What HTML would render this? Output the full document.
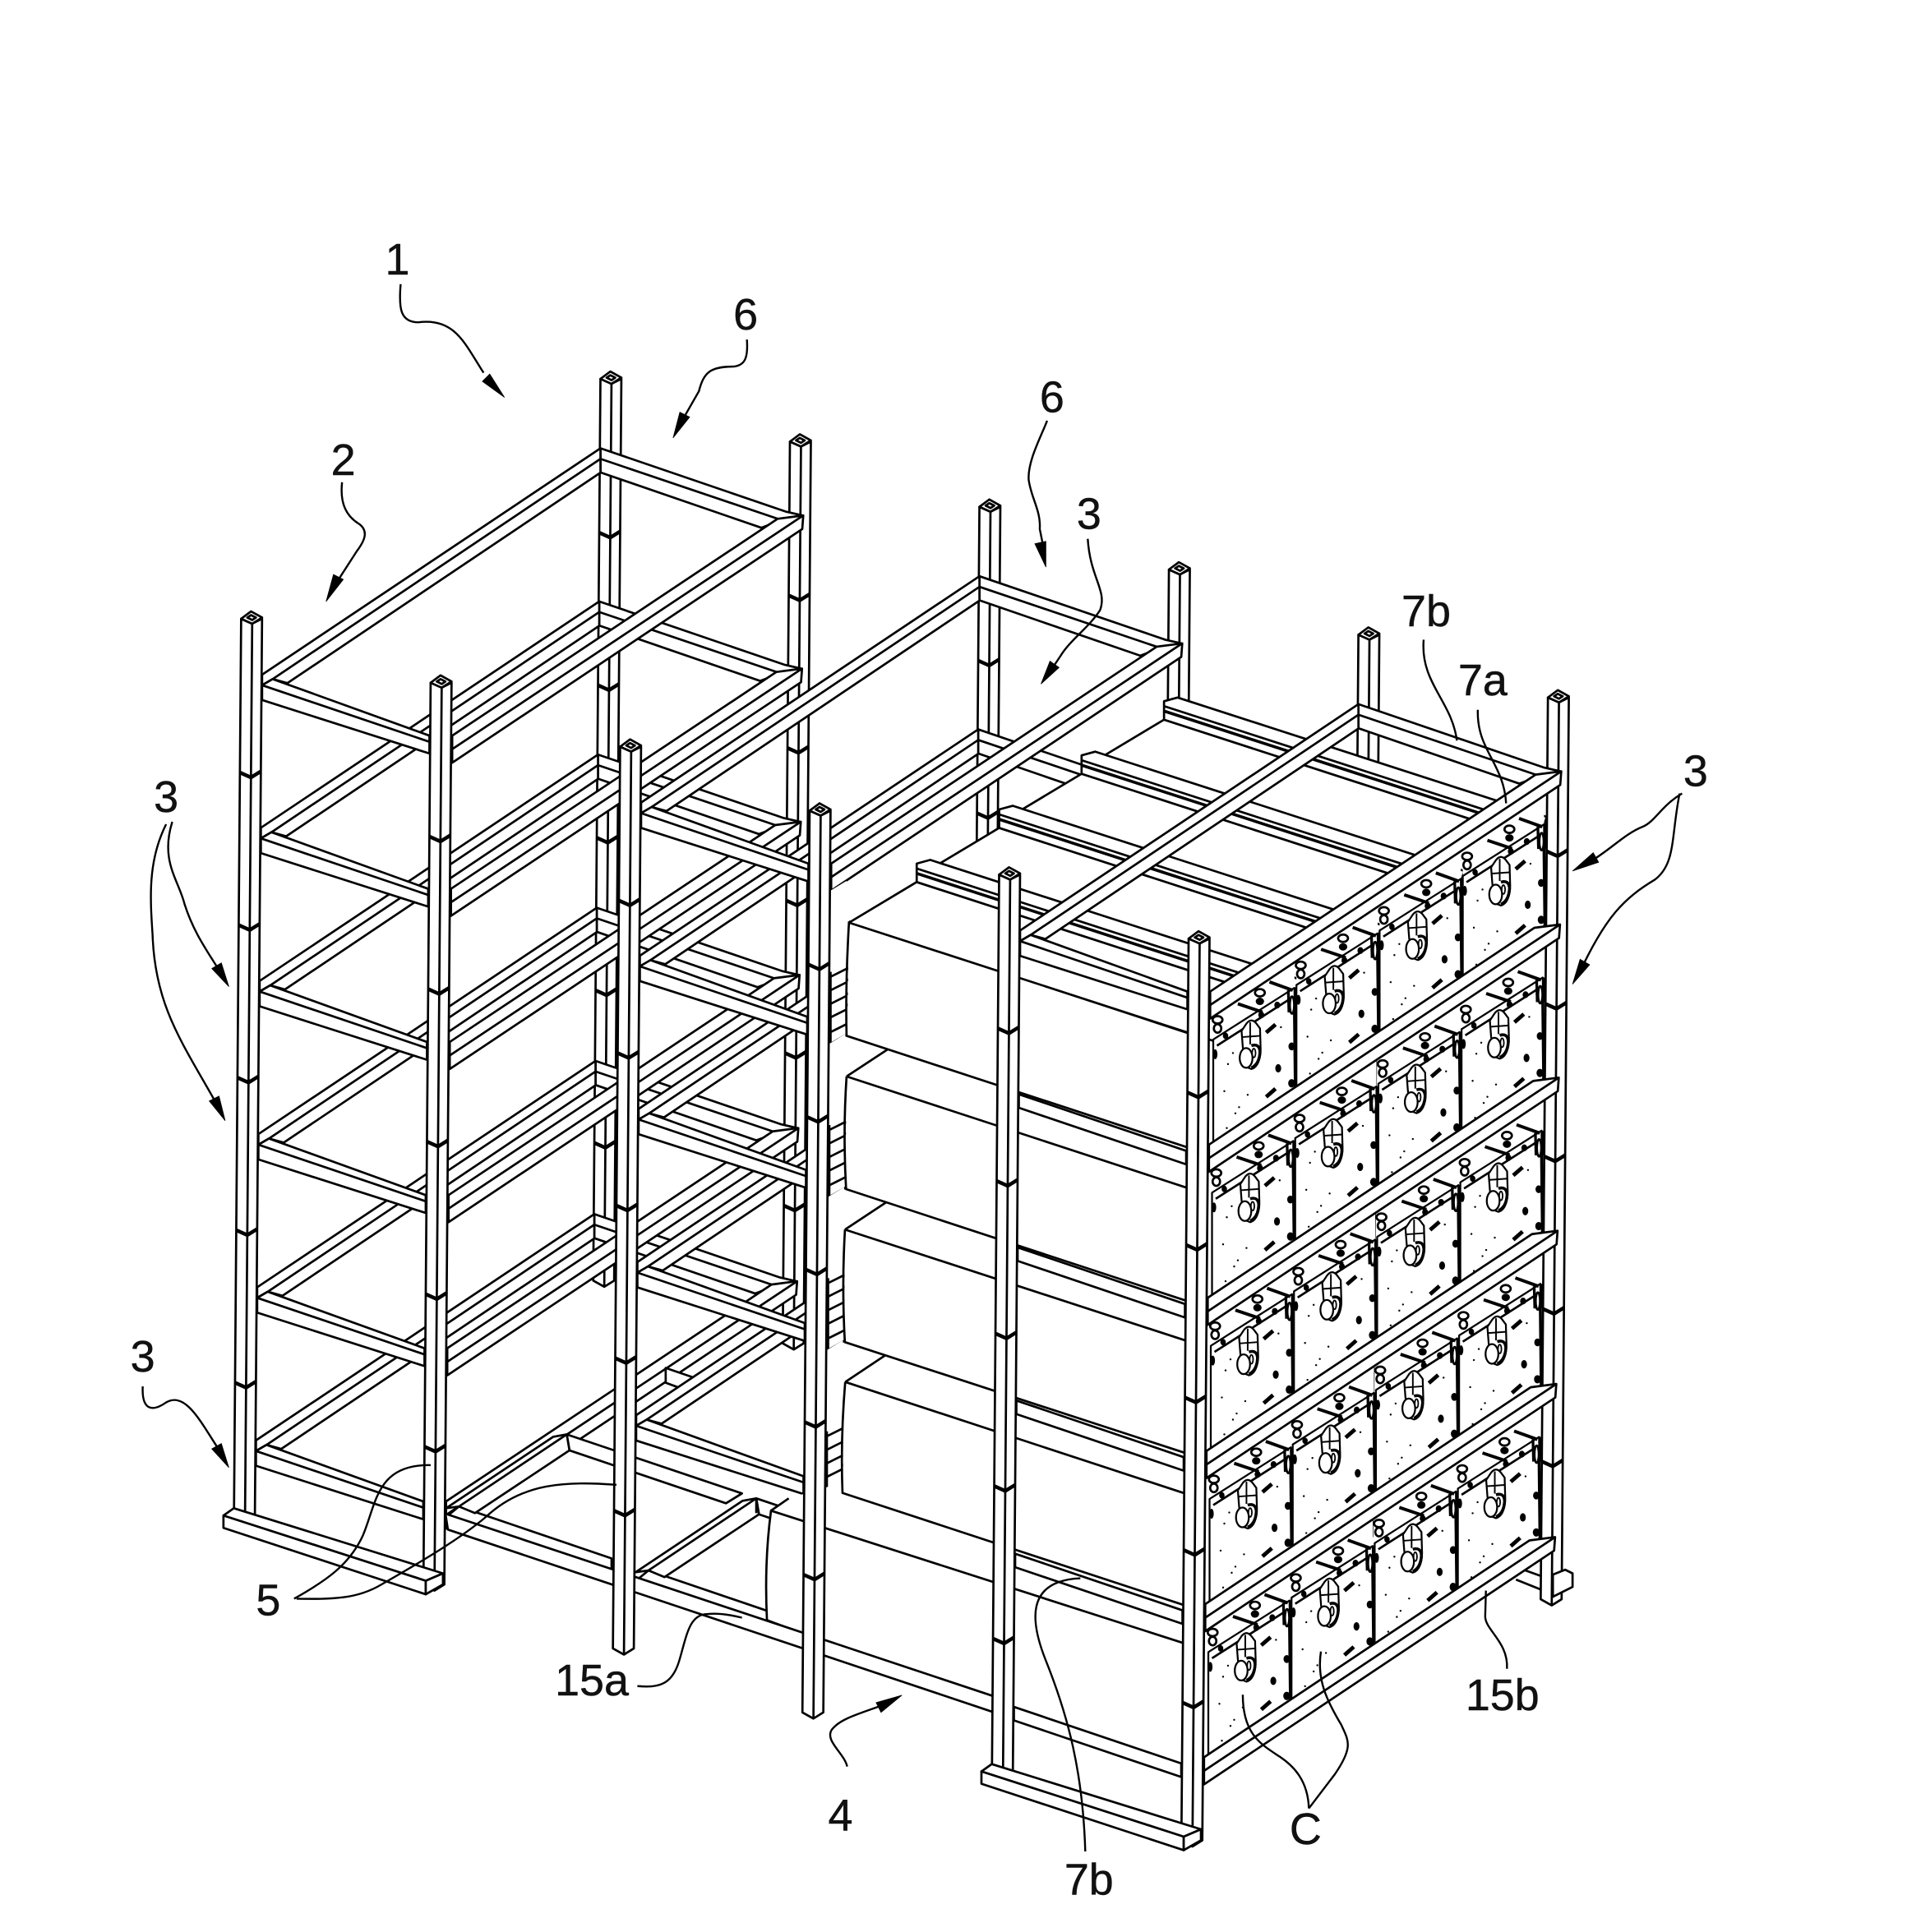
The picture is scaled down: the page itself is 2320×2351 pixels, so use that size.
<!DOCTYPE html>
<html><head><meta charset="utf-8"><title>Battery rack</title>
<style>
html,body{margin:0;padding:0;background:#fff}
svg{display:block}
.s polygon,.s path,.s line,.s polyline,.s ellipse{stroke:#000;stroke-width:1.8;stroke-linejoin:round}
.s polygon,.s ellipse{fill:#fff}
.s line,.s polyline{fill:none}
.s .d{fill:#000;stroke:none}
.s .w{fill:#fff;stroke:none}
.l path{fill:none;stroke:#000;stroke-width:1.6}
.a polygon{fill:#000;stroke:#000;stroke-width:.5}
text{font-family:"Liberation Sans",sans-serif;font-size:36px;fill:#111;stroke:#111;stroke-width:.3;text-anchor:middle}
</style></head><body>
<svg xmlns="http://www.w3.org/2000/svg" width="2320" height="2351" viewBox="0 0 1549.8 1570.5">
<rect width="1550" height="1571" fill="#fff"/>
<defs>
<g id="post" class="s">
<polygon points="-8,3 -8,736 1,741 9,736 9,3 1,7"/>
<line x1="1" y1="7" x2="1" y2="741"/>
<polygon points="-8,3 0,-3 9,2 1,7"/>
<polygon points="-3,2 0,0 4,2 1,4"/>
<polyline points="-8,128 1,132 9,127" style="stroke-width:3"/>
<polyline points="-8,252 1,256 9,251" style="stroke-width:3"/>
<polyline points="-8,376 1,380 9,375" style="stroke-width:3"/>
<polyline points="-8,500 1,504 9,499" style="stroke-width:3"/>
<polyline points="-8,624 1,628 9,623" style="stroke-width:3"/>
</g>
<g id="beam" class="s">
<polygon points="632,421.7 652.8,419 652,430 367.5,620 367.5,598"/>
<line x1="652.8" y1="419" x2="367.5" y2="609"/>
</g>
<g id="shelfF" class="s">
<polygon points="221.6,552 349,598 349,612.5 213,569 213,557"/>
<line x1="213" y1="557" x2="349" y2="603"/>
<use href="#beam"/>
</g>
<g id="shelfL" class="s">
<polygon points="213,557 349,603 349,614 213,568"/>
<use href="#beam"/>
</g>
<g id="shelf" class="s">
<polygon points="488,364.4 639,416 652,419 632,424 618.7,429 488,384"/>
<line x1="488" y1="373" x2="632" y2="421.7"/>
<polygon points="213,548.4 488,364.4 488,384.2 233.6,555.3 221.6,552 213,557"/>
<line x1="221.6" y1="552" x2="488" y2="373"/>
<use href="#shelfF"/>
</g>
<g id="levels">
<use href="#shelf" transform="translate(-5,622.5)"/>
<g id="levels2">
<use href="#shelf" transform="translate(-4,498)"/>
<use href="#shelf" transform="translate(-3,373.5)"/>
<use href="#shelf" transform="translate(-2,249)"/>
<use href="#shelf" transform="translate(-1,124.5)"/>
<use href="#shelf"/>
</g>
</g>
<g id="levels3">
<use href="#shelfL" transform="translate(-5,622.5)"/>
<use href="#shelfL" transform="translate(-4,498)"/>
<use href="#shelfL" transform="translate(-3,373.5)"/>
<use href="#shelfL" transform="translate(-2,249)"/>
<use href="#shelfL" transform="translate(-1,124.5)"/>
<use href="#shelf"/>
</g>
<g id="base" class="s">
<polygon points="181.6,1232 190,1226 360,1279 346,1285"/>
<polygon points="181.6,1232 346,1285 346,1296 181.6,1242"/>
<polygon points="346,1285 360,1279 360,1288 346,1296"/>
</g>
<g id="conn" class="s">
<polygon points="460.6,1166 603,1214 590,1222 462.8,1179"/>
<polygon points="373,1224.6 497,1266.8 497,1277 364,1232"/>
<polygon points="362.6,1226 449.5,1168 460.6,1166 462.8,1179 386,1230 373,1224.6"/>
<line x1="373" y1="1224.6" x2="460.6" y2="1166"/>
</g>
<g id="hatch" class="s">
<polygon class="w" points="675,724 688,716 688,840 675,848.5"/>
<line x1="675" y1="790" x2="675" y2="848"/>
<line x1="675" y1="794" x2="688" y2="787.5"/>
<line x1="675" y1="805" x2="688" y2="798.5"/>
<line x1="675" y1="816" x2="688" y2="809.5"/>
<line x1="675" y1="827" x2="688" y2="820.5"/>
<line x1="675" y1="839" x2="688" y2="832.5"/>
<line x1="675" y1="848.5" x2="688" y2="841"/>
</g>
<g id="ridge" class="s">
<polygon points="0,15 -55,48 250,147 305,114" />
<polygon points="0,0 11,-3 311,94 305,114 0,15"/>
<line x1="0" y1="4" x2="306" y2="103"/>
<line x1="0" y1="8" x2="306" y2="107" style="stroke-width:2.4"/>
</g>
<g id="panel" class="s">
<polygon class="w" points="0,0 66,-42 66,-65 0,-22"/>
<polygon points="0,0 66,-42 66.8,46 0,92" style="stroke-width:1.5"/>
<line x1="66" y1="-23" x2="66.8" y2="46" style="stroke-width:2.4"/>
<line x1="3" y1="5" x2="64" y2="-34"/>
<line x1="20" y1="-29" x2="40" y2="-22.3" style="stroke-width:2.6"/>
<line x1="45.7" y1="-46.8" x2="64.6" y2="-40" style="stroke-width:2.6"/>
<line x1="61" y1="-40" x2="61.5" y2="-22" style="stroke-width:2.2"/>
<line x1="67" y1="-42" x2="67" y2="-22" style="stroke-width:2.2"/>
<ellipse cx="64" cy="-28" rx="1.8" ry="7"/>
<ellipse cx="3.5" cy="-16" rx="4" ry="3"/>
<ellipse cx="3.5" cy="-9" rx="3" ry="3.5"/>
<ellipse cx="37.9" cy="-38" rx="4" ry="3"/>
<ellipse class="d" cx="37.9" cy="-31" rx="3.4" ry="3"/>
<ellipse class="d" cx="52" cy="-28" rx="2.4" ry="2.8"/>
<ellipse class="d" cx="39" cy="-20" rx="2.4" ry="2.8"/>
<ellipse class="d" cx="10" cy="-3" rx="2.2" ry="2.6"/>
<path d="M27 -13 Q31 -18 35 -13 L38 -9 L38.5 8 Q38 22 31 24 L26 22 L24 6 L23 -7 Z" fill="#fff" style="stroke-width:1.5"/>
<line x1="30" y1="-14" x2="30" y2="4" style="stroke-width:1.3"/>
<line x1="24" y1="-2" x2="38" y2="-3" style="stroke-width:1.3"/>
<ellipse cx="26.7" cy="15" rx="5.2" ry="8" style="stroke-width:1.5"/>
<path d="M31 5 Q37.5 3 38 10 Q37.5 20 31 23" fill="none" style="stroke-width:2.4"/>
<ellipse cx="33" cy="11" rx="1.4" ry="3.6" style="stroke-width:1.2"/>
<line x1="43" y1="-5.6" x2="50.6" y2="-12.2" style="stroke-width:3.2"/>
<line x1="43" y1="46.7" x2="50.6" y2="40" style="stroke-width:3.2"/>
<ellipse class="d" cx="52.8" cy="23.4" rx="2.4" ry="3.4"/>
<ellipse class="d" cx="63.7" cy="5.6" rx="2.6" ry="3.2"/>
<ellipse class="d" cx="63.7" cy="35.6" rx="2.8" ry="3.4"/>
<ellipse class="d" cx="66" cy="44" rx="2.6" ry="4"/>
<ellipse class="d" cx="55.7" cy="53.4" rx="2.2" ry="2.8"/>
<ellipse class="d" cx="32" cy="68" rx="2.2" ry="2.8"/>
<ellipse class="d" cx="8" cy="84" rx="2.2" ry="2.8"/>
<ellipse class="d" cx="1.6" cy="12" rx="1.8" ry="4"/>
<ellipse class="d" cx="12" cy="20" rx=".8" ry=".8"/>
<ellipse class="d" cx="9" cy="42" rx=".8" ry=".8"/>
<ellipse class="d" cx="18" cy="60" rx=".8" ry=".8"/>
<ellipse class="d" cx="11" cy="72" rx=".8" ry=".8"/>
<ellipse class="d" cx="28" cy="45" rx=".8" ry=".8"/>
<ellipse class="d" cx="40" cy="60" rx=".8" ry=".8"/>
<ellipse class="d" cx="55" cy="-10" rx=".8" ry=".8"/>
<ellipse class="d" cx="16" cy="11" rx=".8" ry=".8"/>
<ellipse class="d" cx="21" cy="55" rx=".8" ry=".8"/>
</g>
<g id="prow">
<use href="#panel" transform="translate(202.8,-132.9)"/>
<use href="#panel" transform="translate(135.2,-88.6)"/>
<use href="#panel" transform="translate(67.6,-44.3)"/>
<use href="#panel"/>
</g>
</defs>

<!-- Module 1 -->
<use href="#post" transform="matrix(1 0 -.008 1 496 305)"/>
<use href="#post" transform="matrix(1 0 -.008 1 650 356)"/>
<use href="#levels"/>
<use href="#post" transform="matrix(1 0 -.008 1 204 500)"/>
<use href="#post" transform="matrix(1 0 -.008 1 358 552)"/>
<use href="#base"/>

<!-- Module 2 -->
<use href="#post" transform="matrix(1 0 -.008 1 804 409)"/>
<use href="#post" transform="matrix(1 0 -.008 1 958 460)"/>
<g class="s">
<polygon points="541,1112 576,1124 560,1131 541,1124"/>
</g>
<use href="#levels2" transform="translate(308,104)"/>
<use href="#conn"/>
<use href="#conn" transform="translate(154,52)"/>

<!-- Module 3 rear posts -->
<use href="#post" transform="matrix(1 0 -.008 1 1112 513)"/>
<use href="#post" transform="matrix(1 0 -.008 1 1266 564)"/>

<!-- Strips between post and boxes -->
<use href="#hatch"/>
<use href="#hatch" transform="translate(-1,124.5)"/>
<use href="#hatch" transform="translate(-2,249)"/>
<use href="#hatch" transform="translate(-3,373.5)"/>

<!-- Boxes -->
<g class="s">
<polygon class="w" points="690,720 966,800 966,1445 688,1340 685,1214 686.7,999 688,875 690,749"/>
<polygon class="w" points="641,1218 685,1205 966,1300 966,1337 652,1235 626.6,1228"/>
<path fill="#fff" d="M626.6 1228 Q621 1270 623.3 1317 L966 1445 L966 1337 Z"/>
<line x1="626.6" y1="1228" x2="641" y2="1218"/>
<path fill="none" d="M690 749 Q687 800 688 842 L966 933"/>
<line x1="690" y1="749" x2="966" y2="840"/>
<path fill="none" d="M688 875 Q685 920 687.6 966.6 L966 1058"/>
<line x1="688" y1="875" x2="966" y2="966"/>
<line x1="688" y1="875" x2="721.5" y2="853"/>
<path fill="none" d="M686.7 999.5 Q684 1045 686.6 1091 L966 1182"/>
<line x1="686.7" y1="999.5" x2="966" y2="1090.5"/>
<line x1="686.7" y1="999.5" x2="720" y2="977.5"/>
<path fill="none" d="M686.9 1123.4 Q683 1170 684.7 1213.6 L966 1306"/>
<line x1="686.9" y1="1123.4" x2="966" y2="1215"/>
<line x1="686.9" y1="1123.4" x2="719" y2="1102"/>
</g>

<!-- Long base beam 15a -->
<g class="s">
<polygon points="362,1230.5 808,1379 808,1392 364,1243.4"/>
<line x1="614.6" y1="1218" x2="614.6" y2="1230"/>
</g>

<!-- Trays -->
<use href="#ridge" transform="translate(946,570)"/>
<use href="#ridge" transform="translate(879,614)"/>
<use href="#ridge" transform="translate(812,658)"/>
<use href="#ridge" transform="translate(745,702)"/>

<!-- Module 2 front posts -->
<use href="#post" transform="matrix(1 0 -.008 1 512 604)"/>
<use href="#post" transform="matrix(1 0 -.008 1 666 656)"/>

<!-- Panels C -->
<use href="#prow" transform="translate(986,845)"/>
<use href="#prow" transform="translate(985,969.5)"/>
<use href="#prow" transform="translate(984,1094)"/>
<use href="#prow" transform="translate(983,1218.5)"/>
<use href="#prow" transform="translate(982,1343)"/>

<!-- Rear foot -->
<g class="s">
<polygon points="1262,1280 1272,1276 1278,1279 1278,1290 1262,1298"/>
<polyline points="1232,1284 1252,1292"/>
<polyline points="1238,1276 1252,1281"/>
</g>

<!-- Module 3 shelves and front posts -->
<use href="#levels3" transform="translate(616,208)"/>
<use href="#post" transform="matrix(1 0 -.008 1 820 708)"/>
<use href="#post" transform="matrix(1 0 -.008 1 974 760)"/>
<use href="#base" transform="translate(616,208)"/>

<!-- Leaders -->
<g class="l">
<path d="M325.6 231 C324 250 325 262 340 262 C370 258 378 280 393 303"/>
<path d="M607 276 C608 290 606 297 596 298 C578 298 572 302 568 318 L552 346"/>
<path d="M278 392 C276 410 282 420 292 426 C300 432 296 440 290 448 L270 479"/>
<path d="M851 342 C846 355 835 375 836 390 C838 405 846 415 845 430 L848 445"/>
<path d="M884 438 C886 470 900 480 894 496 C885 510 870 520 862 533 L852 548"/>
<path d="M1157 520 C1154 555 1180 570 1184 602"/>
<path d="M1201 577 C1200 610 1222 620 1224 653"/>
<path d="M1367 645 C1350 655 1345 668 1335 672 C1320 678 1310 690 1290 702"/>
<path d="M1365 645 C1358 680 1362 702 1345 715 C1320 730 1305 745 1284 790"/>
<path d="M140 668 C130 700 145 715 150 735 C158 760 170 775 180 792"/>
<path d="M135 670 C120 700 122 730 124 760 C126 820 150 850 178 901"/>
<path d="M116 1127 C115 1148 125 1147 135 1140 C152 1130 165 1160 181 1183"/>
<path d="M239 1299.6 C265 1285 284 1272 295 1248 C306 1222 306 1190 350 1191"/>
<path d="M241 1299.6 C270 1300 290 1300 310 1288 C345 1268 375 1250 395 1233 C425 1205 460 1204 501 1207"/>
<path d="M518 1370.6 C535 1372 546 1370 552 1350 C558 1330 560 1312 575 1312 C585 1311 595 1313 603 1315"/>
<path d="M688.5 1436 C686 1425 670 1415 676 1406 C682 1398 695 1394 715 1387"/>
<path d="M882 1505 C880 1440 868 1395 850 1350 C838 1320 832 1285 878 1283"/>
<path d="M1224.7 1356.5 C1226 1335 1207 1325 1207 1314 L1207.6 1293"/>
<path d="M1063.7 1470 C1063 1448 1052 1436 1040 1428 C1025 1418 1010 1410 1010 1377.6"/>
<path d="M1063.7 1470 L1085 1442 C1100 1420 1096 1415 1090 1402 C1078 1382 1070 1365 1073.5 1342.5"/>
</g>
<g class="a">
<polygon points="410,323 398,304 392,310"/>
<polygon points="547,356 560.5,339 552.5,335"/>
<polygon points="265,489 279,471 271,467"/>
<polygon points="850,461 850,440 841,442"/>
<polygon points="846,556 860.7,542.6 853.3,537.4"/>
<polygon points="1278,708 1299.2,700.9 1294.8,693.1"/>
<polygon points="1278,800 1291.9,784.2 1284.1,779.8"/>
<polygon points="186,802 179.9,782.7 172.1,787.3"/>
<polygon points="183,911 178,891 170,895"/>
<polygon points="186,1193 179.9,1173.4 172.1,1177.8"/>
<polygon points="733,1378 716,1392 712,1384"/>
</g>

<!-- Labels -->
<text x="323" y="223">1</text>
<text x="606" y="268">6</text>
<text x="279" y="386">2</text>
<text x="855" y="335">6</text>
<text x="885" y="430">3</text>
<text x="1159" y="509">7b</text>
<text x="1205" y="565">7a</text>
<text x="1378" y="639">3</text>
<text x="135" y="660">3</text>
<text x="116" y="1115">3</text>
<text x="218" y="1313">5</text>
<text x="481" y="1378">15a</text>
<text x="683" y="1488">4</text>
<text x="1221" y="1390">15b</text>
<text x="1061" y="1499">C</text>
<text x="885" y="1540">7b</text>
</svg>
</body></html>
